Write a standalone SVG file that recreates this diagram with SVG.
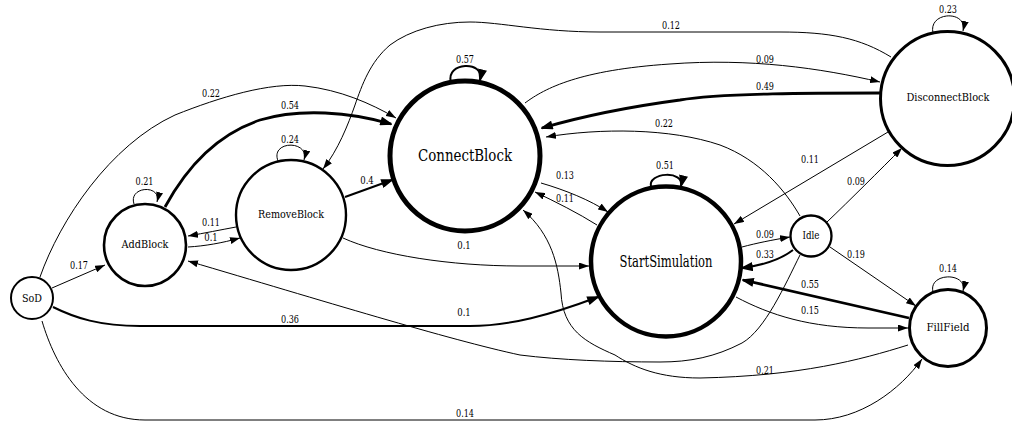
<svg xmlns="http://www.w3.org/2000/svg" width="1012" height="423" viewBox="0 0 1012 423" font-family="DejaVu Serif, serif" font-stretch="condensed">
  <style>
    .node circle { fill: #ffffff; stroke: #000000; }
    .node text { font-size: 11.4px; text-anchor: middle; dominant-baseline: central; fill: #000; }
    .edge { fill: none; stroke: #000000; stroke-width: 1; marker-end: url(#arrow); }
    .w2 { stroke-width: 2; marker-end: url(#arrow-bold); }
    .w3 { stroke-width: 2.8; marker-end: url(#arrow-bold); }
    .lbl { font-size: 11px; text-anchor: middle; fill: #000; }
  </style>
  <defs>
    <marker id="arrow" viewBox="0 0 10 7" refX="10" refY="3.5" markerWidth="10" markerHeight="7" markerUnits="userSpaceOnUse" orient="auto">
      <path d="M0,0 L10,3.5 L0,7 z" fill="#000"/>
    </marker>
    <marker id="arrow-bold" viewBox="0 0 12 9" refX="11" refY="4.5" markerWidth="12" markerHeight="9" markerUnits="userSpaceOnUse" orient="auto">
      <path d="M1,1 L11,4.5 L1,8 z" fill="#000" stroke="#000" stroke-width="1.5" stroke-linejoin="miter"/>
    </marker>
  </defs>

  <rect width="1012" height="423" fill="#ffffff"/>

  <!-- transitions -->
  <g id="connectors">
    <!-- SoD -->
    <path class="edge" d="M52,288 L105,265"/>
    <path class="edge" d="M40,277 C60,220 110,145 175,115 C220,97 270,82 305,86 C340,90 370,103 396,118"/>
    <path class="edge w2" d="M53,307 C75,318 100,326 140,326 L470,326 C510,326 550,315 598,297"/>
    <path class="edge" d="M42,321 C55,365 85,420 145,420 L815,420 C860,420 900,390 922,359"/>

    <!-- AddBlock -->
    <path class="edge" d="M134,204 C128,186 162,184 157,202"/>
    <path class="edge w3" d="M165,207 C185,170 215,135 260,120 C300,108 350,112 391,124"/>
    <path class="edge" d="M188,247 C205,246 222,243 240,238"/>

    <!-- RemoveBlock -->
    <path class="edge" d="M278,161 C270,140 310,140 304,160"/>
    <path class="edge" d="M236,227 C220,230 205,233 188,236"/>
    <path class="edge w2" d="M345,197 L392,180"/>
    <path class="edge" d="M343,238 C380,255 450,266 520,266 L589,266"/>

    <!-- ConnectBlock -->
    <path class="edge w2" d="M451,82 C445,62 485,60 480,80"/>
    <path class="edge" d="M541,183 C565,190 590,200 608,212"/>
    <path class="edge" d="M525,103 C545,88 580,70 670,64 C750,58 820,68 880,82"/>

    <!-- StartSimulation -->
    <path class="edge w2" d="M651,187 C647,172 685,170 681,186"/>
    <path class="edge" d="M597,225 C578,213 556,202 535,192"/>
    <path class="edge" d="M742,247 C757,243 772,240 790,237"/>
    <path class="edge" d="M736,297 C770,315 810,328 868,328 L908,328"/>

    <!-- DisconnectBlock -->
    <path class="edge" d="M933,33 C928,11 968,10 963,31"/>
    <path class="edge w3" d="M880,93 C820,93 720,93 680,100 C620,108 580,117 542,128"/>
    <path class="edge" d="M891,57 C860,38 830,32 780,32 L600,32 C540,32 500,22 470,22 C440,22 410,30 390,45 C370,62 362,85 355,105 C348,125 338,150 323,169"/>
    <path class="edge" d="M888,132 L734,224"/>

    <!-- Idle -->
    <path class="edge" d="M800,216 C785,190 760,160 720,145 C670,128 600,128 546,137"/>
    <path class="edge" d="M827,222 C850,200 880,170 902,148"/>
    <path class="edge w2" d="M793,250 C780,260 765,265 742,268"/>
    <path class="edge" d="M830,247 L916,306"/>
    <path class="edge" d="M800,255 C785,285 765,330 742,343 C715,357 690,362 660,362 C610,362 560,360 520,355 C450,340 320,300 188,261"/>

    <!-- FillField -->
    <path class="edge" d="M933,292 C928,272 968,272 963,291"/>
    <path class="edge w3" d="M909,318 L743,280"/>
    <path class="edge" d="M908,345 C860,360 800,376 700,378 C660,378 635,368 615,355 C585,342 563,330 561,293 C558,265 552,235 523,210"/>

    <!-- probabilities -->
    <g id="edge-labels" lengthAdjust="spacingAndGlyphs">
      <text class="lbl" x="211" y="97" textLength="18" lengthAdjust="spacingAndGlyphs">0.22</text>
      <text class="lbl" x="290" y="109" textLength="18" lengthAdjust="spacingAndGlyphs">0.54</text>
      <text class="lbl" x="290" y="142.5" textLength="18" lengthAdjust="spacingAndGlyphs">0.24</text>
      <text class="lbl" x="144.5" y="185" textLength="18" lengthAdjust="spacingAndGlyphs">0.21</text>
      <text class="lbl" x="465" y="63" textLength="18" lengthAdjust="spacingAndGlyphs">0.57</text>
      <text class="lbl" x="671" y="29" textLength="18" lengthAdjust="spacingAndGlyphs">0.12</text>
      <text class="lbl" x="765" y="63" textLength="18" lengthAdjust="spacingAndGlyphs">0.09</text>
      <text class="lbl" x="765" y="90" textLength="18" lengthAdjust="spacingAndGlyphs">0.49</text>
      <text class="lbl" x="948" y="13" textLength="18" lengthAdjust="spacingAndGlyphs">0.23</text>
      <text class="lbl" x="664" y="127" textLength="18" lengthAdjust="spacingAndGlyphs">0.22</text>
      <text class="lbl" x="810" y="163" textLength="18" lengthAdjust="spacingAndGlyphs">0.11</text>
      <text class="lbl" x="856" y="185" textLength="18" lengthAdjust="spacingAndGlyphs">0.09</text>
      <text class="lbl" x="665" y="169" textLength="18" lengthAdjust="spacingAndGlyphs">0.51</text>
      <text class="lbl" x="565" y="179" textLength="18" lengthAdjust="spacingAndGlyphs">0.13</text>
      <text class="lbl" x="565" y="202" textLength="18" lengthAdjust="spacingAndGlyphs">0.11</text>
      <text class="lbl" x="367" y="184" textLength="13.5" lengthAdjust="spacingAndGlyphs">0.4</text>
      <text class="lbl" x="211" y="225.5" textLength="18" lengthAdjust="spacingAndGlyphs">0.11</text>
      <text class="lbl" x="211" y="241" textLength="13.5" lengthAdjust="spacingAndGlyphs">0.1</text>
      <text class="lbl" x="79" y="269" textLength="18" lengthAdjust="spacingAndGlyphs">0.17</text>
      <text class="lbl" x="464" y="249" textLength="13.5" lengthAdjust="spacingAndGlyphs">0.1</text>
      <text class="lbl" x="765" y="238" textLength="18" lengthAdjust="spacingAndGlyphs">0.09</text>
      <text class="lbl" x="765" y="257.5" textLength="18" lengthAdjust="spacingAndGlyphs">0.33</text>
      <text class="lbl" x="856" y="257.5" textLength="18" lengthAdjust="spacingAndGlyphs">0.19</text>
      <text class="lbl" x="948" y="272" textLength="18" lengthAdjust="spacingAndGlyphs">0.14</text>
      <text class="lbl" x="810" y="287.5" textLength="18" lengthAdjust="spacingAndGlyphs">0.55</text>
      <text class="lbl" x="290" y="322.5" textLength="18" lengthAdjust="spacingAndGlyphs">0.36</text>
      <text class="lbl" x="464" y="316" textLength="13.5" lengthAdjust="spacingAndGlyphs">0.1</text>
      <text class="lbl" x="810" y="314" textLength="18" lengthAdjust="spacingAndGlyphs">0.15</text>
      <text class="lbl" x="765" y="374" textLength="18" lengthAdjust="spacingAndGlyphs">0.21</text>
      <text class="lbl" x="465" y="417" textLength="18" lengthAdjust="spacingAndGlyphs">0.14</text>
    </g>
  </g>

  <!-- states -->
  <g id="nodes">
  <g id="node-SoD" class="node">
    <circle cx="32" cy="298" r="21" stroke-width="2"/>
    <text x="32" y="298" style="font-size:11px" textLength="20" lengthAdjust="spacingAndGlyphs">SoD</text>
  </g>
  <g id="node-AddBlock" class="node">
    <circle cx="145" cy="245" r="41" stroke-width="2.6"/>
    <text x="145" y="244" textLength="47" lengthAdjust="spacingAndGlyphs">AddBlock</text>
  </g>
  <g id="node-RemoveBlock" class="node">
    <circle cx="291" cy="215" r="55" stroke-width="2.4"/>
    <text x="291" y="214" textLength="66" lengthAdjust="spacingAndGlyphs">RemoveBlock</text>
  </g>
  <g id="node-ConnectBlock" class="node">
    <circle cx="465" cy="156" r="75" stroke-width="5"/>
    <text x="465" y="155" style="font-size:16.5px" textLength="94" lengthAdjust="spacingAndGlyphs">ConnectBlock</text>
  </g>
  <g id="node-StartSimulation" class="node">
    <circle cx="666" cy="261.5" r="75" stroke-width="4.5"/>
    <text x="666" y="261" style="font-size:16px" textLength="93" lengthAdjust="spacingAndGlyphs">StartSimulation</text>
  </g>
  <g id="node-DisconnectBlock" class="node">
    <circle cx="947.5" cy="98.5" r="67" stroke-width="3"/>
    <text x="948" y="97" textLength="83" lengthAdjust="spacingAndGlyphs">DisconnectBlock</text>
  </g>
  <g id="node-Idle" class="node">
    <circle cx="811" cy="236" r="20.5" stroke-width="2.3"/>
    <text x="811" y="235" style="font-size:11px" textLength="17" lengthAdjust="spacingAndGlyphs">Idle</text>
  </g>
  <g id="node-FillField" class="node">
    <circle cx="948" cy="328" r="38.5" stroke-width="3"/>
    <text x="948" y="327" style="font-size:11.6px" textLength="43" lengthAdjust="spacingAndGlyphs">FillField</text>
  </g>
  </g>
</svg>
